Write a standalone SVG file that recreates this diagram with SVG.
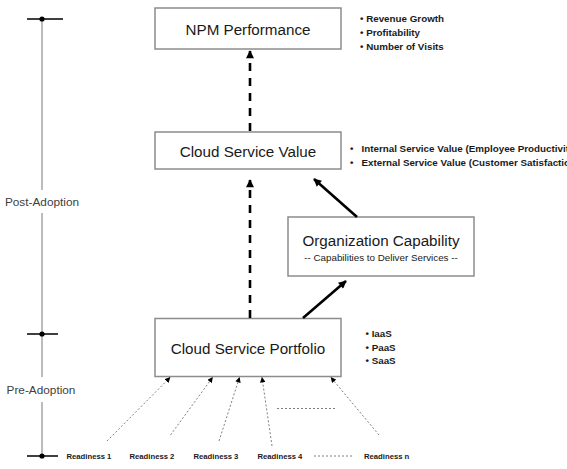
<svg xmlns="http://www.w3.org/2000/svg" width="567" height="469" viewBox="0 0 567 469">
<defs>
<style>
.box{fill:#fff;stroke:#8c8c8c;stroke-width:1.5}
.title{font-family:"Liberation Sans",Arial,sans-serif;font-size:15.2px;fill:#1a1a1a;text-anchor:middle}
.sub{font-family:"Liberation Sans",Arial,sans-serif;font-size:9.8px;fill:#1a1a1a;text-anchor:middle}
.bul{font-family:"Liberation Sans",Arial,sans-serif;font-size:9.8px;font-weight:bold;fill:#1a1a1a}
.rd{font-family:"Liberation Sans",Arial,sans-serif;font-size:7.7px;font-weight:bold;fill:#1a1a1a}
.phase{font-family:"Liberation Sans",Arial,sans-serif;font-size:11.8px;fill:#404040;text-anchor:middle}
.tl{stroke:#a6a6a6;stroke-width:1.5;fill:none}
.tick{stroke:#000;stroke-width:1.5}
.dash{stroke:#000;stroke-width:2.6;stroke-dasharray:8 7;fill:none}
.solid{stroke:#000;stroke-width:2.6;fill:none}
.dot{stroke:#7f7f7f;stroke-width:1;stroke-dasharray:2 2;fill:none}
</style>
<marker id="ah" viewBox="0 0 10 10" refX="9" refY="5" markerUnits="userSpaceOnUse" markerWidth="9" markerHeight="8" orient="auto">
<path d="M0,0 L10,5 L0,10 Z" fill="#000"/>
</marker>
<marker id="ahs" viewBox="0 0 10 10" refX="9" refY="5" markerUnits="userSpaceOnUse" markerWidth="6" markerHeight="5.5" orient="auto">
<path d="M0,0 L10,5 L0,10 Z" fill="#000"/>
</marker>
</defs>

<g id="timeline">
<line class="tl" x1="42" y1="19" x2="42" y2="190"/>
<line class="tl" x1="42" y1="213" x2="42" y2="377"/>
<line class="tl" x1="42" y1="402" x2="42" y2="456"/>
<line class="tick" x1="27" y1="19" x2="63" y2="19"/>
<line class="tick" x1="27" y1="334" x2="58" y2="334"/>
<line class="tick" x1="27" y1="456" x2="58" y2="456"/>
<circle cx="42" cy="19" r="2.6" fill="#000"/>
<circle cx="42" cy="334" r="2.6" fill="#000"/>
<circle cx="42" cy="456" r="2.6" fill="#000"/>
<text class="phase" x="42" y="206">Post-Adoption</text>
<text class="phase" x="41" y="394">Pre-Adoption</text>
</g>

<g id="npm">
<rect class="box" x="155" y="8" width="186" height="41"/>
<text class="title" x="248" y="35">NPM Performance</text>
<text class="bul" x="360" y="22">• Revenue Growth</text>
<text class="bul" x="360" y="36">• Profitability</text>
<text class="bul" x="360" y="49.5">• Number of Visits</text>
</g>

<g id="csv">
<rect class="box" x="155" y="132" width="186" height="37"/>
<text class="title" x="248" y="156.5">Cloud Service Value</text>
<text class="bul" y="152"><tspan x="350">•</tspan><tspan x="361.5">Internal Service Value (Employee Productivity)</tspan></text>
<text class="bul" y="165.5"><tspan x="350">•</tspan><tspan x="361.5">External Service Value (Customer Satisfaction)</tspan></text>
</g>

<g id="orgcap">
<rect class="box" x="288" y="217" width="186" height="59"/>
<text class="title" x="381" y="245.5">Organization Capability</text>
<text class="sub" x="381" y="261">-- Capabilities to Deliver Services --</text>
</g>

<g id="csp">
<rect class="box" x="155" y="318.5" width="186" height="58"/>
<text class="title" x="248" y="354">Cloud Service Portfolio</text>
<text class="bul" x="365.5" y="337">• IaaS</text>
<text class="bul" x="365.5" y="350.5">• PaaS</text>
<text class="bul" x="365.5" y="364">• SaaS</text>
</g>

<g id="readiness">
<text class="rd" x="66.5" y="459">Readiness 1</text>
<text class="rd" x="129.5" y="459">Readiness 2</text>
<text class="rd" x="193.5" y="459">Readiness 3</text>
<text class="rd" x="257.5" y="459">Readiness 4</text>
<text class="rd" x="364" y="459">Readiness n</text>
<line class="dot" x1="314" y1="456" x2="352" y2="456"/>
</g>

<g id="connectors">
<line class="dash" x1="250" y1="318" x2="250" y2="180" marker-end="url(#ah)"/>
<line class="dash" x1="250" y1="131" x2="250" y2="51" marker-end="url(#ah)"/>
<line class="solid" x1="303" y1="318" x2="346" y2="281" marker-end="url(#ah)"/>
<line class="solid" x1="357" y1="217" x2="314" y2="179" marker-end="url(#ah)"/>
<line class="dot" x1="107" y1="441" x2="170" y2="377.5" marker-end="url(#ahs)"/>
<line class="dot" x1="170.5" y1="435" x2="212.5" y2="377.5" marker-end="url(#ahs)"/>
<line class="dot" x1="219" y1="441" x2="239.5" y2="377.5" marker-end="url(#ahs)"/>
<line class="dot" x1="272" y1="446" x2="262" y2="377.5" marker-end="url(#ahs)"/>
<line class="dot" x1="379" y1="435" x2="331" y2="377.5" marker-end="url(#ahs)"/>
<line class="dot" x1="277" y1="408.5" x2="335" y2="408.5"/>
</g>
</svg>
